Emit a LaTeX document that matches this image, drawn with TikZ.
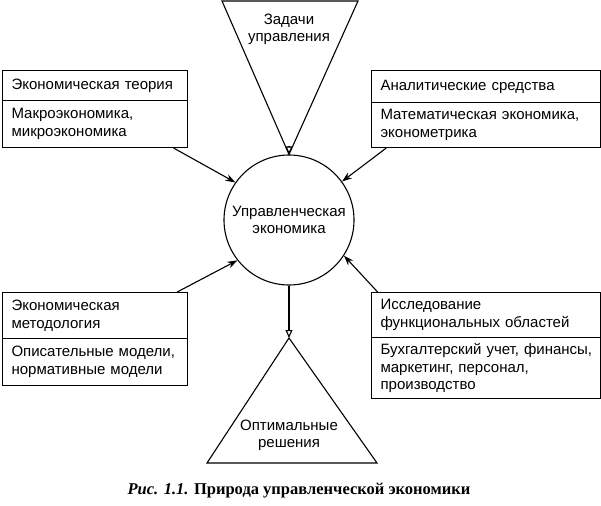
\documentclass[tikz,border=0pt]{standalone}
\usepackage{fontspec}
\setmainfont{Liberation Serif}
\setsansfont{Liberation Sans}
\usetikzlibrary{arrows.meta}

\tikzset{
  box/.style={draw, line width=1.1pt, anchor=north west, align=left,
    inner xsep=9pt, inner ysep=0pt, font=\sffamily\fontsize{15}{17.5}\selectfont},
  leftbox/.style={box, text width=167pt},
  rightbox/.style={box, text width=211pt},
  core/.style={draw, circle, line width=1.1pt, minimum size=130pt, align=center,
    font=\sffamily\fontsize{15}{17.5}\selectfont},
  tritext/.style={align=center, font=\sffamily\fontsize{15}{17}\selectfont},
  apexarrow/.style={line width=1.1pt, -{Triangle[open, length=8pt, width=7pt]}},
  feed/.style={line width=1.1pt, -{Stealth[length=10pt, width=7pt]}}
}

\begin{document}
\begin{tikzpicture}[x=1pt, y=-1pt]
\useasboundingbox (0,0) rectangle (601,505);
\node[core] (econ) at (289,220) {Управленческая\\экономика};
\coordinate (zl) at (222,1);
\coordinate (zr) at (358,1);
\coordinate (ztail) at (289,146);
\draw[line width=1.1pt] (zl) -- (zr) -- (econ.north) -- cycle;
\node[tritext] (zadachi) at (289,29) {Задачи\\управления};
\draw[apexarrow] (ztail) -- (econ.north);
\node[leftbox, minimum height=30pt] (teoria) at (2,70) {Экономическая теория};
\node[leftbox, minimum height=47pt] (makro) at (2,100) {Макроэкономика,\\микроэкономика};
\node[rightbox, minimum height=32pt] (analit) at (371,70) {Аналитические средства};
\node[rightbox, minimum height=45pt] (matem) at (371,102) {Математическая экономика,\\эконометрика};
\node[leftbox, minimum height=46pt] (metod) at (2,292) {Экономическая\\методология};
\node[leftbox, minimum height=47pt] (opis) at (2,338) {Описательные модели,\\нормативные модели};
\node[rightbox, minimum height=45pt] (issled) at (371,292) {Исследование\\функциональных областей};
\node[rightbox, minimum height=61pt] (buh) at (371,337) {Бухгалтерский~учет,~финансы,\\маркетинг, персонал,\\производство};
\draw[feed] (makro.-17) -- (econ.145);
\draw[feed] (matem.-167) -- (econ.36);
\draw[feed] (metod.16) -- (econ.-142);
\draw[feed] (issled.168) -- (econ.-33);
\coordinate (oapex) at (289,338);
\coordinate (obl) at (207,463);
\coordinate (obr) at (377,463);
\draw[line width=1.1pt] (oapex) -- (obr) -- (obl) -- cycle;
\node[tritext] (optim) at (289,435) {Оптимальные\\решения};
\draw[apexarrow] (econ.south) -- (oapex);
\node[font=\rmfamily\bfseries\fontsize{16.5}{19}\selectfont] (caption) at (299,491)
  {\textit{Рис. 1.1.} Природа управленческой экономики};
\end{tikzpicture}
\end{document}
